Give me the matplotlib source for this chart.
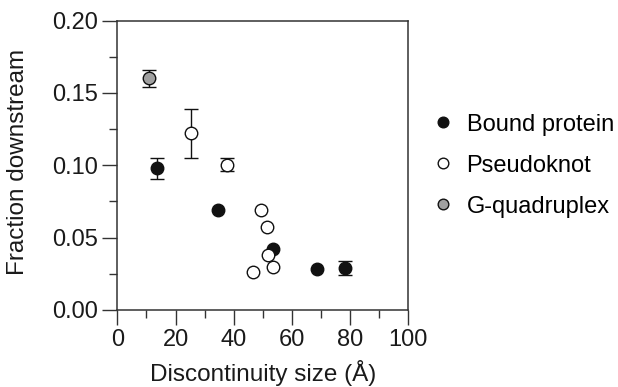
import numpy as np
import matplotlib.pyplot as plt

plt.rcParams['font.family'] = ['Liberation Sans', 'DejaVu Sans']

# Data: size (A), fraction downstream, error (0 = none shown)
bound_x = [13.7, 34.6, 53.6, 68.7, 78.3]
bound_y = [0.098, 0.069, 0.042, 0.028, 0.029]
bound_err = [0.0072, 0, 0, 0, 0.0047]

pk_x = [25.5, 37.7, 49.4, 51.5, 52.0, 53.5, 46.6]
pk_y = [0.122, 0.1005, 0.069, 0.057, 0.038, 0.030, 0.026]
pk_err = [0.017, 0.0045, 0, 0, 0, 0, 0]

gq_x = [11.0]
gq_y = [0.160]
gq_err = [0.006]

series = [
    ('Bound protein', bound_x, bound_y, bound_err, '#111111'),
    ('Pseudoknot', pk_x, pk_y, pk_err, 'white'),
    ('G-quadruplex', gq_x, gq_y, gq_err, '#a0a0a0'),
]

fig = plt.figure(figsize=(6.18, 3.87), dpi=100)
ax = fig.add_axes([0.190, 0.199, 0.470, 0.748])

handles = []
for name, x, y, err, fc in series:
    x = np.array(x)
    y = np.array(y)
    err = np.array(err)
    m = err > 0
    if m.any():
        ax.errorbar(x[m], y[m], yerr=err[m], fmt='none', ecolor='#111111',
                    elinewidth=1.0, capsize=5, capthick=1.0, zorder=2)
    h, = ax.plot(x, y, 'o', ms=9, mfc=fc, mec='#111111', mew=1.0,
                 linestyle='none', zorder=3, label=name)
    handles.append(h)

ax.set_xlim(0, 100)
ax.set_ylim(0, 0.20)
ax.set_xticks(np.arange(0, 101, 20))
ax.set_xticks(np.arange(10, 100, 20), minor=True)
ax.set_yticks(np.arange(0, 0.201, 0.05))
ax.set_yticks(np.arange(0.025, 0.2, 0.05), minor=True)
ax.set_yticklabels(['0.00', '0.05', '0.10', '0.15', '0.20'])

for s in ax.spines.values():
    s.set_color('#333333')
    s.set_linewidth(1.1)
ax.tick_params(which='major', length=11, width=1.0, color='#333333',
               labelsize=17, pad=3, labelcolor='#1a1a1a')
ax.tick_params(which='minor', length=5.5, width=1.0, color='#333333')

ax.set_xlabel('Discontinuity size (Å)', fontsize=17.5, color='#1a1a1a', labelpad=6)
ax.set_ylabel('Fraction downstream', fontsize=17.5, color='#1a1a1a')
ax.yaxis.set_label_coords(-0.305, 0.51)

fig.legend(handles=handles, loc='center left', bbox_to_anchor=(0.667, 0.572),
           frameon=False, fontsize=17, markerscale=0.85, handlelength=0.8,
           handletextpad=0.6, labelspacing=0.8)

fig.savefig('out.png', dpi=100)
